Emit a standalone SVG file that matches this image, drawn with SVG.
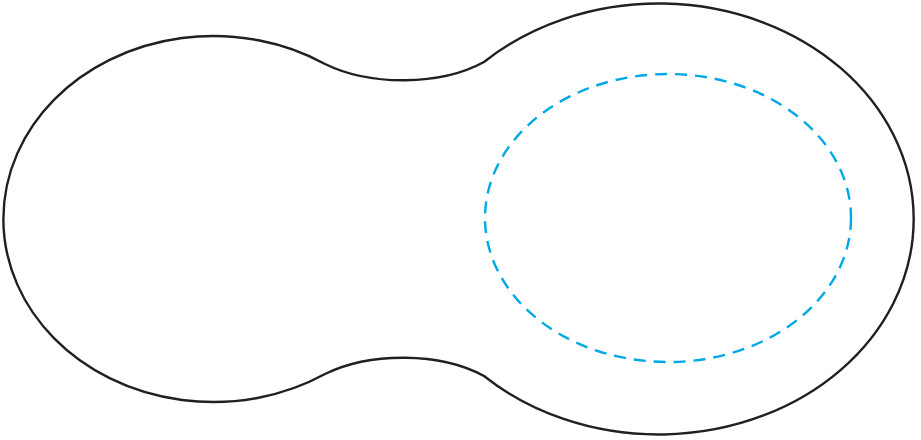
<svg xmlns="http://www.w3.org/2000/svg" width="921" height="440" viewBox="0 0 921 440">
<style>
.outline{fill:none;stroke:#231f20;stroke-width:2.4}
.dash{fill:none;stroke:#00a8e6;stroke-width:2.4;stroke-dasharray:12 8}
</style>
<rect width="921" height="440" fill="#ffffff"/>
<g id="outline">
<path class="outline" d="M325,64 A210,183 0 1,0 325,374 C370,352 440,352 484,376 A255,215.5 0 1,0 484,62 C440,86 370,86 325,64 Z"/>
</g>
<g id="inner">
<ellipse class="dash" cx="668" cy="218" rx="183" ry="144"/>
</g>
</svg>
